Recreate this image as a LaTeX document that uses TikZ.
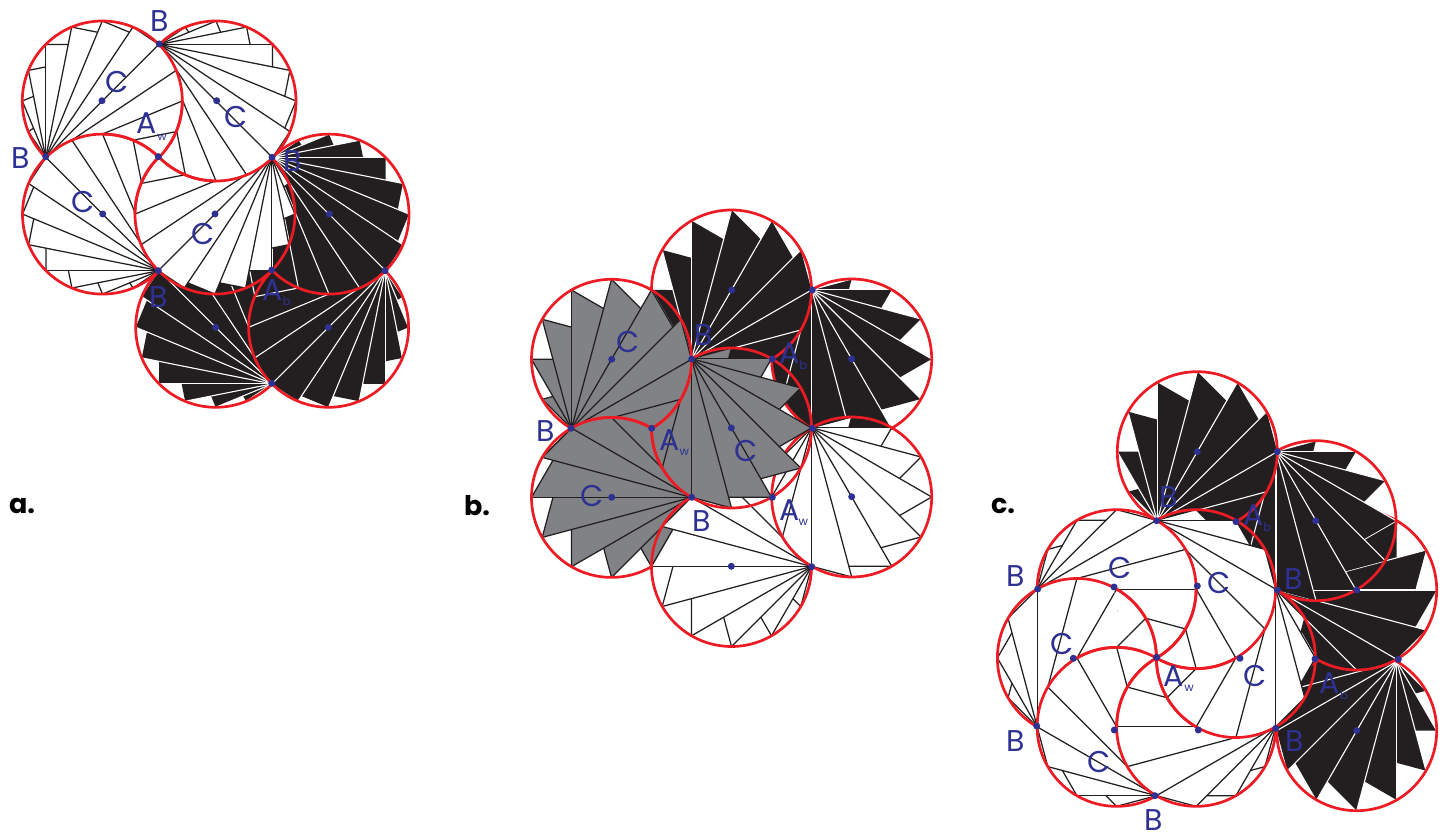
\documentclass[tikz,border=0pt]{standalone}
\usepackage{fontspec}
\setmainfont{Poppins}
\definecolor{ink}{HTML}{231F20}
\definecolor{midgray}{HTML}{808285}
\definecolor{rim}{HTML}{ED1C24}
\definecolor{dotblue}{HTML}{2E3192}
\newcounter{labn}
\def\xclip{}
\newcommand\kindW{\tikzset{fanfillst/.style={fill=white},fanray/.style={draw=ink,line width=1.25pt},fantooth/.style={draw=ink,line width=1.25pt}}}
\newcommand\kindG{\tikzset{fanfillst/.style={fill=midgray},fanray/.style={draw=ink,line width=1.25pt},fantooth/.style={draw=ink,line width=1.25pt}}}
\newcommand\kindK{\tikzset{fanfillst/.style={fill=ink},fanray/.style={draw=white,line width=1.1pt},fantooth/.style={draw=none}}}
% cx cy(px) r dir delta kmax turn
\newcommand\fan[7]{%
 \pgfmathsetmacro\bx{(#1)-#3*cos(#4)}%
 \pgfmathsetmacro\by{839-(#2)-#3*sin(#4)}%
 \pgfmathsetmacro\phiang{180-#7}%
 \pgfmathtruncatemacro\kmin{-#6}%
 \begin{scope}
 \ifx\xclip\empty\else\clip \xclip;\fi
 \begin{scope}
 \clip ({#1},{839-(#2)}) circle (#3);
 \foreach \k in {\kmin,...,#6}{%
  \pgfmathsetmacro\rayang{#4+\k*#5}%
  \pgfmathsetmacro\rayl{2*#3*cos(\k*#5)}%
  \pgfmathsetmacro\qdist{\rayl*sin(\phiang)/sin(\phiang+#5)}%
  \path[fanfillst] (\bx,\by) -- ++(\rayang:\rayl) -- ({\bx+\qdist*cos(\rayang-#5)},{\by+\qdist*sin(\rayang-#5)}) -- cycle;
 }
 \foreach \k in {\kmin,...,#6}{%
  \pgfmathsetmacro\rayang{#4+\k*#5}%
  \pgfmathsetmacro\rayl{2*#3*cos(\k*#5)}%
  \pgfmathsetmacro\qdist{\rayl*sin(\phiang)/sin(\phiang+#5)}%
  \path[fantooth] (\bx,\by) ++(\rayang:\rayl) -- ({\bx+\qdist*cos(\rayang-#5)},{\by+\qdist*sin(\rayang-#5)});
  \path[fanray] (\bx,\by) -- ++(\rayang:\rayl);
 }
 \end{scope}
 \draw[rim,line width=2.7pt] ({#1},{839-(#2)}) circle (#3);
 \end{scope}
}
\newcommand\fana[3]{\fan{#1}{#2}{80}{#3}{11.25}{7}{90}}
\newcommand\fanb[3]{\fan{#1}{#2}{80}{#3}{15}{5}{120}}
\newcommand\fanc[3]{\fan{#1}{#2}{79.5}{#3}{15}{5}{60}}
% cx cy r a1 a2: a piece of a rim, restored where it reaches a shared point
\newcommand\rimarc[5]{\draw[rim,line width=2.7pt] ({(#1)+#3*cos(#4)},{839-(#2)+#3*sin(#4)}) arc[start angle=#4,end angle=#5,radius=#3];}
\newcommand\lab[3]{\stepcounter{labn}\node[text=dotblue,font=\fontsize{30}{30}\selectfont,inner sep=0pt] (lab\thelabn) at (#1,{839-#2}) {#3};}
\newcommand\sublab[3]{\stepcounter{labn}\node[text=dotblue,font=\fontsize{11.5}{12}\selectfont,inner sep=0pt] (lab\thelabn) at (#1,{839-#2}) {#3};}
\newcommand\panellab[3]{\stepcounter{labn}\node[text=black,font=\fontsize{27}{27}\selectfont\bfseries,inner sep=0pt] (lab\thelabn) at (#1,{839-#2}) {#3};}
\begin{document}
\begin{tikzpicture}[x=1pt,y=1pt]
\useasboundingbox (0,0) rectangle (1452,839);
\fill[white] (0,0) rectangle (1452,839);
% ---------- a
\kindK
\fana{215.7}{327.3}{135}
\fana{328.6}{327.3}{225}
\fana{329}{214.1}{-45}
\kindW
\fana{216}{101}{-45}
\fana{102.3}{101}{45}
\fana{102.5}{214.1}{135}
\fana{215}{214.1}{225}
\def\xclip{(215,{839-214.1}) circle (82)}
\fana{216}{101}{-45}
\def\xclip{}
\rimarc{102.3}{101}{80}{-45}{0}
\rimarc{102.5}{214.1}{80}{45}{90}
\rimarc{215}{214.1}{80}{135}{180}
\rimarc{216}{101}{80}{225}{270}
% ---------- b
\kindK
\fanb{851.7}{359}{-60}
\fanb{731.5}{290}{60}
\kindG
\fanb{611.5}{359.3}{60}
\fanb{611.5}{497.4}{180}
\kindW
\fanb{731.5}{566.5}{180}
\fanb{851.7}{497}{-60}
\kindG
\fanb{731.5}{428}{-60}
\def\xclip{(731.5,{839-428}) circle (82)}
\fanb{611.5}{359.3}{60}
\def\xclip{}
\rimarc{611.5}{359.3}{80}{-60}{-15}
\rimarc{611.5}{497.4}{80}{60}{105}
\rimarc{731.5}{428}{80}{180}{225}
% ---------- c
\kindK
\fanb{1356.7}{730.7}{-120}
\fanb{1356.7}{590}{0}
\fanb{1316}{520.7}{-60}
\fanb{1197.3}{451.7}{60}
\kindW
\def\hx{1156.4}\def\hy{658}\def\hr{79.5}
\fanc{\hx-\hr*.5}{\hy-\hr*.866}{0}
\fanc{\hx-\hr}{\hy}{60}
\fanc{\hx-\hr*.5}{\hy+\hr*.866}{120}
\fanc{\hx+\hr*.5}{\hy+\hr*.866}{180}
\fanc{\hx+\hr}{\hy}{-120}
\fanc{\hx+\hr*.5}{\hy-\hr*.866}{-60}
\def\xclip{({\hx+\hr*.5},{839-\hy+\hr*.866}) circle (81.5)}
\fanc{\hx-\hr*.5}{\hy-\hr*.866}{0}
\def\xclip{({\hx+\hr*.5},{839-\hy+\hr*.866}) circle (81.5); \clip ({\hx-\hr*.5},{839-\hy+\hr*.866}) circle (81.5)}
\fanc{\hx-\hr}{\hy}{60}
\def\xclip{}
\rimarc{\hx-\hr*.5}{\hy-\hr*.866}{\hr}{-60}{0}
\rimarc{\hx+\hr*.5}{\hy-\hr*.866}{\hr}{240}{300}
\rimarc{\hx+\hr}{\hy}{\hr}{180}{240}
\rimarc{\hx+\hr*.5}{\hy+\hr*.866}{\hr}{120}{180}
\rimarc{\hx-\hr*.5}{\hy+\hr*.866}{\hr}{60}{120}
\rimarc{\hx-\hr}{\hy}{\hr}{0}{60}
% ---------- dots
\foreach \x/\y in {102/100.7,216.7/100.7,102.7/214,215/214,329.3/214,215.7/327.3,328.3/327.3,
 45.7/156.7,159.3/44,272/157.3,158.3/270.7,271.7/383.3,385/270.7,271.7/270,158.3/156.7,
 731.7/290,851.7/359,851.7/496.7,731.3/566.3,611.7/497.3,611.7/359.3,731.3/428,
 691.7/359,812.3/290,812.3/428.3,811.7/566.7,691.7/497.3,571/428.3,772.3/359,651.7/428.3,772.3/497.3,
 1197.3/451.7,1277.3/451.7,1156.7/520.7,1236/521.7,1315.7/520.7,1114/587,1197.3/586,1037.7/589,1277.3/590,1356.7/590,
 1073.3/658.3,1156.7/657.3,1240/658.3,1315/659,1398.3/659.3,1114.3/730,1198.3/730,1356.7/730.7,1275.7/728.3,1036.7/726,1155/795.7}
 {\fill[dotblue] (\x,{839-\y}) circle (3.5);}
% ---------- labels a
\lab{159.3}{20.7}{B}\lab{20.7}{158}{B}\lab{117}{82}{C}\lab{236}{116.7}{C}
\lab{146.7}{122.7}{A}\sublab{162}{137}{w}\lab{293}{161}{B}\lab{82.7}{201.7}{C}
\lab{202.7}{234}{C}\lab{158.3}{296.7}{B}\lab{273}{290}{A}\sublab{286.7}{301.7}{b}
% labels b
\lab{703.3}{335}{B}\lab{628.3}{341.7}{C}\lab{789.3}{352.7}{A}\sublab{803.3}{365}{b}
\lab{546}{430.7}{B}\lab{670}{440}{A}\sublab{684.3}{452.3}{w}\lab{746}{450.7}{C}
\lab{592}{496}{C}\lab{701.7}{521}{B}\lab{789.3}{510}{A}\sublab{803.3}{522.3}{w}
% labels c
\lab{1168.3}{496.7}{B}\lab{1253.3}{515}{A}\sublab{1267.3}{527.3}{b}\lab{1120.3}{567.7}{C}
\lab{1219.3}{583.3}{C}\lab{1016}{576}{B}\lab{1293.3}{579.3}{B}\lab{1061.7}{644}{C}
\lab{1173.3}{676}{A}\sublab{1189}{688.3}{w}\lab{1255}{676}{C}\lab{1330}{682.7}{A}\sublab{1344}{695}{b}
\lab{1016}{740.7}{B}\lab{1295}{740.7}{B}\lab{1099.3}{761.7}{C}\lab{1154}{820}{B}
% panel labels
\panellab{22}{506}{a.}\panellab{477}{506}{b.}\panellab{1003}{506}{c.}
\end{tikzpicture}
\end{document}
